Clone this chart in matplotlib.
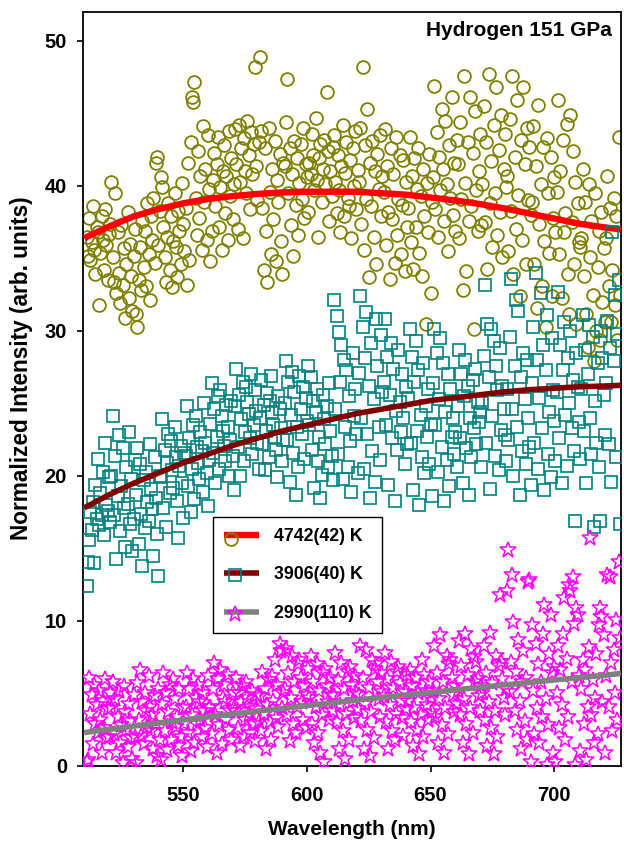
import numpy as np
import matplotlib
matplotlib.use('Agg')
import matplotlib.pyplot as plt
from matplotlib.legend_handler import HandlerBase
from matplotlib.lines import Line2D

plt.rcParams['font.family'] = ['Liberation Sans', 'DejaVu Sans']
plt.rcParams['font.weight'] = 'bold'

# ---------------- data ----------------
window_start = 511      # nm, first wavelength of first window
window_width = 10       # nm per window
step = 0.5              # nm between points

olive_windows = [
    [36.5,35.2,37.8,34.9,36.1,38.6,35.6,33.9,37.2,36.8,31.8,35.4,37.9,36.3,34.2,38.4,35.9,33.5,36.7,37.4],
    [40.3,35.1,33.4,39.5,32.6,36.8,34.0,31.9,37.3,33.2,35.7,30.9,34.6,38.2,32.3,36.0,33.8,31.4,35.2,37.0],
    [31.2,30.3,33.5,35.8,32.8,37.6,34.4,36.9,33.1,38.8,35.3,32.1,37.9,36.3,39.2,34.7,41.6,42.0,35.9,38.3],
    [40.6,39.9,37.2,35.1,33.4,36.5,38.8,34.2,37.9,33.0,36.2,39.5,35.8,33.7,38.3,36.9,34.6,40.2,37.4,35.5],
    [38.5,33.2,41.6,34.9,43.0,46.1,45.8,47.2,39.2,36.6,42.4,37.8,40.7,35.6,44.1,38.9,41.2,36.3,43.5,39.8],
    [34.8,36.9,40.4,42.3,38.6,41.5,43.4,37.2,39.9,35.6,41.0,42.8,38.1,40.7,36.3,43.8,39.3,41.9,37.7,40.1],
    [43.9,41.5,37.0,44.2,40.3,42.6,36.4,43.3,41.0,39.5,44.5,42.1,38.4,43.7,40.8,42.9,48.2,41.4,39.0,43.0],
    [48.9,43.8,38.5,34.2,42.6,36.9,33.4,44.0,39.6,35.3,41.2,37.7,43.1,34.8,40.4,38.9,42.2,36.2,33.9,41.6],
    [41.4,44.4,47.4,39.5,42.6,37.3,40.8,35.2,43.1,38.7,41.9,36.6,40.2,42.9,39.1,44.0,37.8,41.5,40.6,38.2],
    [41.6,40.8,43.6,42.1,39.7,44.7,40.4,36.5,41.9,42.9,38.9,41.2,43.2,40.1,46.5,42.4,37.6,41.0,39.3,42.7],
    [43.5,40.3,38.1,42.1,39.7,36.8,41.4,44.2,37.9,40.9,43.0,39.2,38.6,41.8,36.4,42.6,40.0,43.8,38.4,41.1],
    [40.3,44.0,37.4,48.2,35.6,42.8,39.1,45.3,33.7,41.6,38.6,43.1,36.5,41.0,34.6,42.2,39.8,43.5,37.9,40.7],
    [39.6,43.9,35.9,41.4,38.2,33.6,42.6,37.7,40.8,34.7,43.4,36.6,39.1,42.1,35.3,38.7,41.8,34.1,40.3,37.2],
    [38.5,43.4,36.1,40.7,34.3,41.9,37.2,39.8,42.6,35.4,39.3,33.8,41.2,37.9,30.5,40.2,36.8,42.2,32.6,38.9],
    [40.6,46.9,38.4,43.7,36.5,42.0,39.7,45.3,41.2,37.6,44.5,40.1,35.5,42.8,39.2,46.1,38.0,41.6,36.9,43.2],
    [41.5,36.4,44.4,39.1,32.8,47.6,40.2,34.1,43.0,37.6,46.1,38.6,42.3,30.1,45.2,39.7,36.9,41.0,43.6,37.3],
    [40.1,45.5,37.5,43.0,34.3,47.7,38.8,41.7,35.8,44.2,39.5,46.8,36.6,42.5,38.2,44.9,35.1,41.2,43.6,39.9],
    [40.7,35.5,44.6,38.3,47.6,33.9,42.0,37.0,45.9,39.4,32.4,43.2,36.3,46.8,41.5,34.6,44.0,39.0,42.7,38.0],
    [38.9,44.1,34.6,41.4,31.6,45.6,37.4,40.1,33.1,42.7,36.2,30.3,43.3,39.5,35.4,42.0,32.4,37.8,40.6,36.8],
    [39.6,45.9,35.3,41.0,32.3,43.2,36.8,38.1,44.3,33.9,31.2,44.9,37.5,42.4,34.6,40.3,30.5,38.8,36.1,35.8],
    [36.4,41.2,33.8,38.9,31.2,28.9,40.1,35.1,37.6,32.5,27.9,39.5,30.0,34.4,36.9,29.4,38.2,32.0,35.7,30.6],
    [36.4,40.7,33.1,38.5,30.6,34.2,39.2,31.8,37.9,29.4,43.4,32.5],
]

teal_windows = [
    [12.4,14.1,15.6,17.5,16.3,18.2,14.0,19.4,17.0,21.2,16.6,18.8,17.3,20.3,15.9,22.3,18.0,17.6,19.9,16.8],
    [20.0,24.1,17.3,21.4,14.3,18.6,22.8,16.2,19.3,21.9,17.8,15.1,20.6,18.1,23.0,16.7,19.8,14.8,17.0,21.1],
    [18.7,21.9,15.3,20.8,17.4,13.8,19.7,16.4,20.3,18.2,16.9,22.2,19.1,17.7,14.5,21.3,18.5,16.0,13.1,20.0],
    [19.9,23.9,17.8,21.8,16.5,20.9,22.9,18.8,22.4,20.4,19.2,23.4,21.3,18.3,15.7,20.7,22.1,19.5,17.1,21.6],
    [21.4,24.8,19.3,22.6,17.5,20.5,23.5,18.4,24.1,22.0,20.9,19.8,23.0,21.7,18.9,25.0,22.3,20.2,17.9,21.1],
    [23.6,26.4,21.6,24.6,19.5,22.7,25.5,20.5,25.9,24.1,23.1,22.1,21.0,24.9,23.4,20.0,22.5,25.2,21.4,19.0],
    [24.8,27.4,22.0,25.6,20.0,23.9,26.5,21.0,23.0,26.1,25.1,24.3,22.6,27.0,21.5,23.5,25.9,24.5,22.3,20.5],
    [24.0,26.6,22.2,24.9,20.4,23.1,25.7,21.3,25.2,26.9,24.4,23.5,22.7,21.8,19.9,25.5,24.6,23.3,21.0,22.5],
    [25.0,27.9,22.5,26.5,19.6,24.2,27.2,21.6,25.8,18.7,23.4,20.6,26.9,24.6,22.9,26.1,21.2,25.4,23.8,27.6],
    [23.5,26.8,21.8,25.2,19.2,24.4,26.0,21.0,22.7,18.5,20.1,25.6,23.9,22.2,24.8,20.6,26.4,23.1,21.4,19.7],
    [32.1,24.6,31.0,21.5,29.9,26.5,29.0,19.8,28.0,23.4,27.3,20.6,25.5,22.4,18.9,28.5,24.1,26.0,22.9,20.2],
    [27.1,32.4,24.0,30.3,20.5,28.1,31.3,22.9,26.2,18.5,29.2,21.7,25.3,19.6,30.8,27.6,23.4,21.1,29.7,25.8],
    [26.5,30.8,23.5,28.2,19.4,25.6,29.2,22.6,27.4,18.3,24.5,21.8,28.7,25.1,23.0,27.0,24.0,20.8,26.1,22.2],
    [25.4,30.1,22.3,28.2,19.0,26.5,29.3,23.1,27.3,18.0,24.2,21.3,27.8,20.2,24.8,22.7,26.0,20.8,23.6,18.6],
    [26.4,30.1,23.5,28.5,20.3,25.3,29.5,22.0,27.8,18.3,24.4,21.1,27.0,19.3,26.0,22.7,24.0,21.5,23.0,20.6],
    [24.8,28.7,22.6,27.0,19.5,25.5,28.0,21.9,26.2,18.7,24.0,21.3,26.6,23.3,27.4,22.2,25.1,23.7,24.4,20.6],
    [25.0,28.3,33.2,22.3,30.5,26.8,19.1,30.1,24.1,29.3,21.4,27.6,25.9,20.4,28.8,23.2,26.2,24.6,22.8,21.0],
    [26.0,22.5,29.6,33.6,24.6,20.0,27.6,32.1,23.4,31.4,18.7,26.8,21.7,28.5,25.3,20.8,28.0,24.0,22.0,19.4],
    [26.4,30.3,22.3,34.0,28.0,20.5,25.4,32.6,23.3,29.0,19.0,27.3,31.1,21.5,24.4,19.9,29.5,25.9,23.8,21.0],
    [25.8,32.7,22.6,29.0,19.5,27.3,30.6,24.2,20.7,28.1,25.0,30.0,23.3,26.6,21.7,16.9,28.5,26.1,23.7,21.2],
    [26.0,31.1,23.1,28.7,19.5,27.0,30.4,24.0,21.5,29.6,16.5,25.2,22.3,27.8,20.6,16.9,30.0,28.1,25.6,22.8],
    [26.4,30.7,22.2,28.8,19.6,36.8,27.9,32.5,21.3,29.8,33.5,16.7],
]

magenta_windows = [
    [0.3,0.4,6.1,3.6,4.9,1.5,5.6,2.9,4.2,2.3,5.2,3.2,0.9,4.5,2.6,6.0,1.9,3.9,2.0,5.0],
    [4.0,5.8,2.2,4.6,0.9,3.4,5.2,1.6,2.8,0.2,5.5,3.7,2.5,1.3,4.3,3.1,1.9,0.5,4.9,2.0],
    [0.2,5.7,3.2,6.6,2.1,4.4,1.5,5.0,3.8,2.7,6.2,4.1,2.4,3.5,1.2,4.8,2.9,0.7,5.3,1.8],
    [0.4,4.3,6.4,2.4,5.0,1.1,3.7,5.6,1.8,3.0,6.0,4.6,2.7,3.4,1.4,5.3,2.0,0.7,4.0,2.9],
    [4.1,6.4,2.3,5.3,1.0,3.5,6.0,1.6,4.7,2.9,5.6,4.4,3.2,2.0,5.0,3.8,2.6,1.3,6.2,4.0],
    [4.1,2.2,5.3,7.1,3.5,0.9,6.0,2.8,6.6,1.5,4.7,5.6,4.4,3.2,6.3,2.5,3.8,1.8,5.0,4.0],
    [3.8,6.1,2.6,5.0,1.4,4.4,5.5,2.0,3.2,5.8,4.7,3.5,2.3,4.1,5.2,2.9,1.7,3.9,4.9,3.0],
    [4.8,2.4,6.5,3.6,5.3,1.2,4.2,5.9,3.0,1.8,6.2,4.5,7.3,3.3,5.6,2.7,8.4,7.9,4.0,5.0],
    [5.3,8.1,3.5,6.4,1.7,4.7,7.6,2.9,5.8,2.3,4.1,7.0,7.3,6.1,4.4,3.2,5.5,2.6,4.9,6.7],
    [4.7,7.6,2.9,5.8,1.6,4.1,7.0,2.3,5.2,0.9,3.5,6.4,0.3,6.7,5.5,4.4,3.2,6.1,4.9,3.8],
    [4.8,7.8,3.0,5.9,1.2,4.2,7.1,2.4,5.3,0.5,3.6,6.5,1.8,6.8,5.6,4.5,3.3,6.2,5.0,3.9],
    [4.9,8.3,3.1,6.1,1.2,4.3,8.0,2.5,5.4,0.7,3.7,7.3,1.9,6.7,7.0,5.8,4.6,3.4,6.4,5.1],
    [4.8,7.8,3.0,6.0,1.2,4.2,7.2,2.4,5.4,1.8,3.6,6.5,6.8,5.7,4.5,3.3,2.1,5.1,3.9,6.3],
    [4.5,6.6,3.0,5.5,1.4,4.0,6.1,2.5,5.0,0.8,3.5,7.3,2.0,6.3,5.2,4.2,3.2,5.8,4.7,3.7],
    [5.2,8.3,3.4,6.4,1.6,4.6,9.0,2.8,5.8,0.9,4.0,7.6,2.2,7.0,7.3,6.1,4.9,3.7,5.5,4.3],
    [5.2,8.6,3.5,6.9,1.6,4.6,9.1,2.9,6.3,0.8,4.0,8.1,2.3,7.5,5.8,7.2,6.0,4.8,3.8,5.5],
    [5.0,8.3,3.2,6.4,1.4,4.4,9.2,2.6,5.7,0.8,3.8,7.6,2.0,6.9,11.8,7.2,6.0,4.7,3.5,5.3],
    [12.1,14.9,5.1,7.2,13.2,9.9,3.8,6.5,2.5,8.7,4.5,1.2,5.8,7.9,3.1,6.1,1.8,12.7,12.8,0.3],
    [9.7,5.2,2.2,8.4,4.0,7.0,1.6,5.8,3.4,9.1,11.1,4.6,0.1,2.8,7.7,10.4,6.4,0.9,6.8,0.3],
    [5.0,8.3,2.6,6.6,4.2,9.1,11.6,1.8,7.4,3.4,12.5,12.1,5.8,13.0,9.8,0.1,10.9,10.4,6.2,1.0],
    [5.3,7.3,2.9,6.6,0.4,4.1,8.2,15.7,3.5,5.9,1.6,4.7,7.7,2.2,9.7,10.9,10.3,4.4,9.0,0.9],
    [6.2,13.2,4.1,13.0,7.1,2.4,8.0,5.0,10.1,3.2,14.1,8.8],
]

fit_wl   = [510, 520, 530, 540, 550, 560, 570, 580, 590, 600, 610, 620,
            630, 640, 650, 660, 670, 680, 690, 700, 710, 720, 727]
fit_4742 = [36.4, 37.2, 37.9, 38.4, 38.8, 39.1, 39.3, 39.45, 39.55, 39.6, 39.6, 39.6,
            39.5, 39.4, 39.2, 39.0, 38.75, 38.45, 38.1, 37.75, 37.4, 37.15, 37.0]
fit_3906 = [17.8, 18.7, 19.5, 20.2, 20.9, 21.5, 22.1, 22.6, 23.1, 23.5, 23.9, 24.3,
            24.6, 24.9, 25.2, 25.4, 25.6, 25.8, 25.95, 26.05, 26.15, 26.2, 26.25]
fit_2990 = [2.3, 2.53, 2.75, 2.96, 3.17, 3.38, 3.58, 3.78, 3.97, 4.16, 4.35, 4.54,
            4.72, 4.90, 5.07, 5.25, 5.42, 5.59, 5.76, 5.93, 6.09, 6.25, 6.38]

series_labels = ['4742(42) K', '3906(40) K', '2990(110) K']
xticks = [550, 600, 650, 700]
yticks = [0, 10, 20, 30, 40, 50]


def expand(windows):
    xs, ys = [], []
    for i, w in enumerate(windows):
        for k, v in enumerate(w):
            xs.append(window_start + window_width * i + step * k)
            ys.append(v)
    return np.array(xs), np.array(ys)


xa, ya = expand(olive_windows)
xb, yb = expand(teal_windows)
xc, yc = expand(magenta_windows)

# ---------------- figure ----------------
fig = plt.figure(figsize=(6.24, 8.46), dpi=100)
ax = fig.add_axes([0.1330, 0.0946, 0.8622, 0.8913])

olive, teal, magenta = '#808000', '#008080', '#FF00FF'
red, darkred, gray = '#FF0000', '#800000', '#808080'

ax.plot(xa, ya, ls='none', marker='o', ms=9.2, mfc='none', mec=olive, mew=1.3, zorder=2)
ax.plot(fit_wl, fit_4742, color=red, lw=4.6, solid_capstyle='butt', zorder=3)
ax.plot(xb, yb, ls='none', marker='s', ms=8.0, mfc='none', mec=teal, mew=1.2, zorder=4)
ax.plot(fit_wl, fit_3906, color=darkred, lw=4.0, solid_capstyle='butt', zorder=5)
ax.plot(xc, yc, ls='none', marker='*', ms=12, mfc='none', mec=magenta, mew=1.1, zorder=6)
ax.plot(fit_wl, fit_2990, color=gray, lw=4.0, solid_capstyle='butt', zorder=7)

ax.set_xlim(509.5, 727)
ax.set_ylim(0, 52)
ax.set_xticks(xticks)
ax.set_yticks(yticks)
ax.tick_params(axis='both', which='major', direction='out', length=4.0, width=1.2,
               labelsize=14.5, top=False, right=False)
ax.tick_params(axis='y', pad=7.5)
ax.tick_params(axis='x', pad=10.5)
for s in ax.spines.values():
    s.set_linewidth(1.3)

ax.set_xlabel('Wavelength (nm)', fontsize=15, fontweight='bold')
ax.xaxis.set_label_coords(0.500, -0.0716)
ax.set_ylabel('Normalized Intensity (arb. units)', fontsize=16.3, fontweight='bold')
ax.yaxis.set_label_coords(-0.093, 0.527)

ax.text(0.983, 0.988, 'Hydrogen 151 GPa', transform=ax.transAxes, ha='right', va='top',
        fontsize=15, fontweight='bold')


# ---------------- legend ----------------
class LineMarker:
    def __init__(self, color, lw, marker, mcolor, ms, mew, mfrac, mdy):
        self.color, self.lw = color, lw
        self.marker, self.mcolor, self.ms, self.mew = marker, mcolor, ms, mew
        self.mfrac, self.mdy = mfrac, mdy


class HandlerLineMarker(HandlerBase):
    def create_artists(self, legend, h, xdescent, ydescent, width, height, fontsize, trans):
        x0, x1 = -xdescent, -xdescent + width
        y0 = (height - ydescent) / 2
        ln = Line2D([x0, x1], [y0, y0], color=h.color, lw=h.lw, solid_capstyle='butt')
        mk = Line2D([x0 + h.mfrac * width], [y0 + h.mdy], ls='none', marker=h.marker,
                    ms=h.ms, mfc='none', mec=h.mcolor, mew=h.mew)
        ln.set_transform(trans)
        mk.set_transform(trans)
        return [ln, mk]


handles = [
    LineMarker(red, 4.6, 'o', olive, 9.2, 1.3, 0.2, -3.0),
    LineMarker(darkred, 4.0, 's', teal, 8.0, 1.2, 0.3, -1.5),
    LineMarker(gray, 4.0, '*', magenta, 12, 1.1, 0.3, -1.5),
]
leg = ax.legend(handles, series_labels, handler_map={LineMarker: HandlerLineMarker()},
                loc='upper left', bbox_to_anchor=(0.242, 0.330), borderaxespad=0,
                fontsize=12.8, handlelength=2.0, handletextpad=0.8, labelspacing=1.22,
                borderpad=0.6, fancybox=False, framealpha=1, edgecolor='black')
leg.get_frame().set_linewidth(1.0)
for t in leg.get_texts():
    t.set_fontweight('bold')
leg.set_zorder(10)

fig.savefig('out.png', dpi=100)
